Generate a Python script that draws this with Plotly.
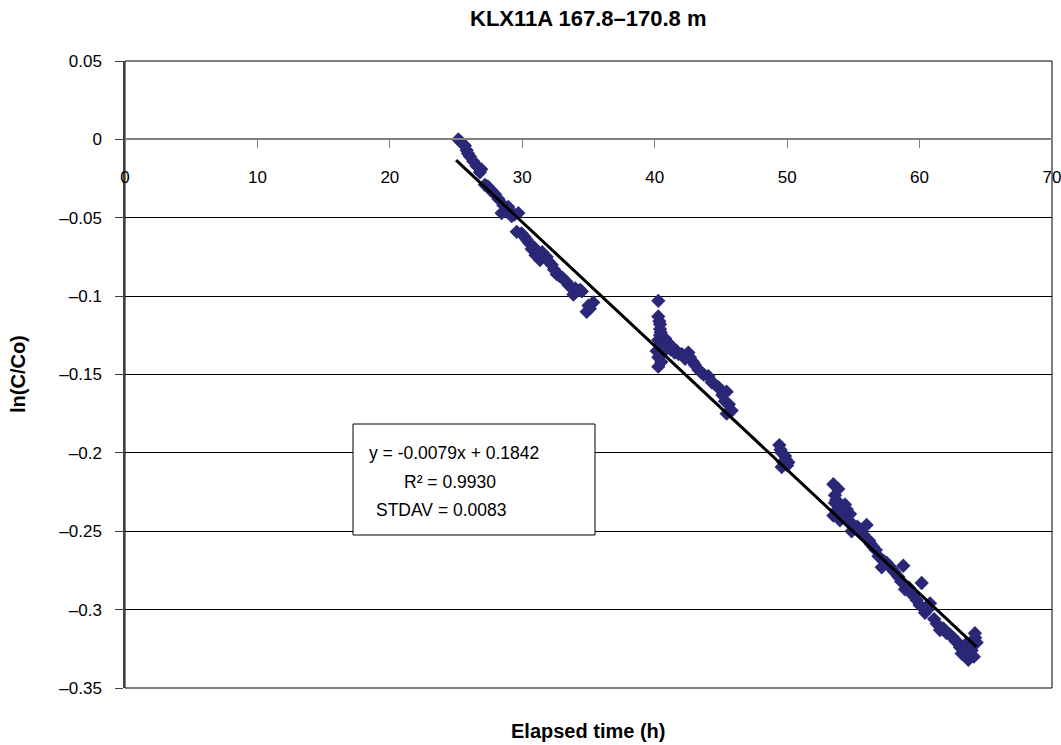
import plotly.graph_objects as go

# ---------------- data ----------------
time_h = [
    25.17, 25.40, 25.67, 25.80, 25.90, 26.05, 26.30, 26.55, 26.80, 26.90,
    27.18, 27.40, 27.56, 27.70, 27.94, 28.20, 28.57, 28.44, 28.80, 28.94,
    29.20, 29.40, 29.70, 29.58, 29.95, 30.15, 30.33, 30.50, 30.71, 30.90,
    31.00, 31.21, 31.34, 31.50, 31.84, 32.00, 32.22, 32.40, 32.60, 32.80,
    33.00, 33.20, 33.35, 33.50, 33.73, 33.86, 34.00, 34.10, 34.36, 34.50,
    34.86, 35.00, 35.10, 35.36,
    40.27, 40.27, 40.35, 40.40, 40.45, 40.40, 40.40, 40.27, 40.35, 40.15,
    40.27, 40.50, 40.27, 40.50, 40.60, 40.78, 40.90, 41.03, 41.20, 41.28,
    41.50, 41.66, 41.80, 42.04, 42.20, 42.30, 42.54, 42.66, 42.90, 43.04,
    43.30, 43.55, 43.70, 44.05, 44.30, 44.50, 44.80, 45.00, 45.10, 45.43,
    45.30, 45.60, 45.81, 45.43,
    49.41, 49.50, 49.84, 49.71, 49.90, 50.09, 50.00, 49.59, 49.60,
    53.49, 53.86, 53.61, 53.61, 53.70, 54.37, 53.80, 53.49, 53.99, 54.10,
    54.75, 54.20, 54.50, 54.60, 54.87, 55.00, 55.30, 55.50, 56.00, 55.75,
    56.20, 56.30, 56.50, 56.70, 56.90, 57.14, 57.30, 57.50, 57.70, 57.90,
    58.10, 58.77, 58.39, 58.60, 58.90, 59.20, 59.50, 60.16, 59.78, 60.00,
    60.41, 60.60, 60.79, 61.10, 61.30, 61.54, 61.80, 62.04, 62.30, 62.55,
    62.70, 62.90, 63.05, 63.18, 63.30, 63.50, 63.68, 63.80, 63.93, 64.00,
    64.18, 64.20, 64.31, 64.10,
]
ln_c_co = [
    0.000, -0.002, -0.004, -0.007, -0.009, -0.011, -0.014, -0.017, -0.021, -0.019,
    -0.029, -0.030, -0.032, -0.033, -0.035, -0.038, -0.042, -0.047, -0.045, -0.043,
    -0.049, -0.048, -0.047, -0.059, -0.060, -0.062, -0.064, -0.066, -0.070, -0.069,
    -0.074, -0.073, -0.077, -0.072, -0.075, -0.078, -0.080, -0.083, -0.086, -0.087,
    -0.088, -0.090, -0.091, -0.093, -0.095, -0.099, -0.095, -0.097, -0.096, -0.097,
    -0.110, -0.106, -0.108, -0.104,
    -0.103, -0.113, -0.116, -0.118, -0.123, -0.121, -0.125, -0.128, -0.131, -0.135,
    -0.139, -0.137, -0.145, -0.142, -0.132, -0.127, -0.129, -0.130, -0.134, -0.132,
    -0.136, -0.135, -0.137, -0.137, -0.138, -0.140, -0.136, -0.139, -0.142, -0.144,
    -0.147, -0.149, -0.150, -0.151, -0.155, -0.156, -0.158, -0.160, -0.163, -0.161,
    -0.167, -0.169, -0.173, -0.175,
    -0.195, -0.198, -0.202, -0.206, -0.204, -0.206, -0.208, -0.209, -0.200,
    -0.220, -0.223, -0.227, -0.232, -0.230, -0.233, -0.236, -0.240, -0.243, -0.240,
    -0.239, -0.237, -0.236, -0.244, -0.250, -0.246, -0.247, -0.249, -0.246, -0.252,
    -0.256, -0.258, -0.260, -0.262, -0.266, -0.273, -0.269, -0.270, -0.272, -0.274,
    -0.276, -0.272, -0.279, -0.282, -0.287, -0.286, -0.291, -0.283, -0.294, -0.297,
    -0.302, -0.300, -0.296, -0.306, -0.309, -0.313, -0.312, -0.315, -0.316, -0.318,
    -0.320, -0.321, -0.324, -0.328, -0.325, -0.322, -0.332, -0.329, -0.326, -0.322,
    -0.315, -0.318, -0.321, -0.330,
]

fit_slope = -0.0079
fit_intercept = 0.1842
fit_x_range = [25.0, 64.3]

x_ticks = [0, 10, 20, 30, 40, 50, 60, 70]
y_ticks = [0.05, 0, -0.05, -0.1, -0.15, -0.2, -0.25, -0.3, -0.35]
y_tick_labels = ["0.05", "0", "\u20130.05", "\u20130.1", "\u20130.15", "\u20130.2",
                 "\u20130.25", "\u20130.3", "\u20130.35"]

title_text = "KLX11A 167.8\u2013170.8 m"
x_title = "Elapsed time (h)"
y_title = "ln(C/Co)"
stats_lines = ["y = -0.0079x + 0.1842", "R\u00b2 = 0.9930", "STDAV = 0.0083"]

# ---------------- figure ----------------
FONT = "Liberation Sans, Arial, sans-serif"
W, H = 1061, 745
L, R, T, B = 125, 9, 61, 57
PW, PH = W - L - R, H - T - B


def px_to_paper(px, py):
    return (px - L) / PW, (H - B - py) / PH


fig = go.Figure()

fig.add_trace(go.Scatter(
    x=time_h, y=ln_c_co, mode="markers",
    marker=dict(symbol="diamond", size=11, color="#2B2777", line=dict(width=0)),
    showlegend=False, hoverinfo="x+y",
))

fit_y = [fit_slope * v + fit_intercept for v in fit_x_range]
fig.add_trace(go.Scatter(
    x=fit_x_range, y=fit_y, mode="lines",
    line=dict(color="black", width=3),
    showlegend=False, hoverinfo="skip",
))

# y=0 position in the plotting area (fraction)
y0_pos = (0 - y_ticks[-1]) / (y_ticks[0] - y_ticks[-1])

fig.update_layout(
    width=W, height=H, autosize=False,
    margin=dict(l=L, r=R, t=T, b=B, pad=0, autoexpand=False),
    paper_bgcolor="white", plot_bgcolor="white",
    font=dict(family=FONT, size=17, color="black"),
    showlegend=False,
    xaxis=dict(
        range=[x_ticks[0], x_ticks[-1]], tickvals=x_ticks,
        anchor="free", position=y0_pos, side="bottom",
        automargin=False,
        showgrid=False, zeroline=False,
        showline=True, linecolor="#808080", linewidth=1.5,
        ticks="outside", ticklen=8, tickcolor="#808080", tickwidth=1,
        ticklabelstandoff=14, ticklabeloverflow="allow",
        tickfont=dict(family=FONT, size=17, color="black"),
    ),
    yaxis=dict(
        range=[y_ticks[-1], y_ticks[0]], tickvals=y_ticks, ticktext=y_tick_labels,
        domain=[0, 1], automargin=False,
        showgrid=True, gridcolor="black", gridwidth=1,
        zeroline=False,
        showline=True, linecolor="#404040", linewidth=1.5,
        ticks="outside", ticklen=8, tickcolor="#404040", tickwidth=1,
        ticklabelstandoff=10,
        tickfont=dict(family=FONT, size=17, color="black"),
    ),
)

# plot frame (top, bottom, right)
fig.add_shape(type="rect", xref="x domain", yref="y domain", x0=0, x1=1, y0=0, y1=1,
              line=dict(color="black", width=1), layer="below")

# titles
tx, ty = px_to_paper(588, 18)
fig.add_annotation(text="<b>" + title_text + "</b>", xref="paper", yref="paper",
                   x=tx, y=ty, showarrow=False, xanchor="center", yanchor="middle",
                   font=dict(family=FONT, size=22, color="black"))
ax, ay = px_to_paper(588, 731)
fig.add_annotation(text="<b>" + x_title + "</b>", xref="paper", yref="paper",
                   x=ax, y=ay, showarrow=False, xanchor="center", yanchor="middle",
                   font=dict(family=FONT, size=20, color="black"))
yx, yy = px_to_paper(18, 374)
fig.add_annotation(text="<b>" + y_title + "</b>", xref="paper", yref="paper",
                   x=yx, y=yy, showarrow=False, xanchor="center", yanchor="middle",
                   textangle=-90, font=dict(family=FONT, size=20, color="black"))

# stats box
bx0, by0 = px_to_paper(353, 535)
bx1, by1 = px_to_paper(595, 424)
fig.add_shape(type="rect", xref="paper", yref="paper", x0=bx0, x1=bx1, y0=by0, y1=by1,
              line=dict(color="black", width=1), fillcolor="white", layer="above")
for text, (lx, ly) in zip(stats_lines, [(367, 453), (402, 482), (374, 510)]):
    px_, py_ = px_to_paper(lx, ly)
    fig.add_annotation(text=text, xref="paper", yref="paper", x=px_, y=py_,
                       showarrow=False, xanchor="left", yanchor="middle",
                       font=dict(family=FONT, size=17.5, color="black"))

fig.write_html("out.html")
